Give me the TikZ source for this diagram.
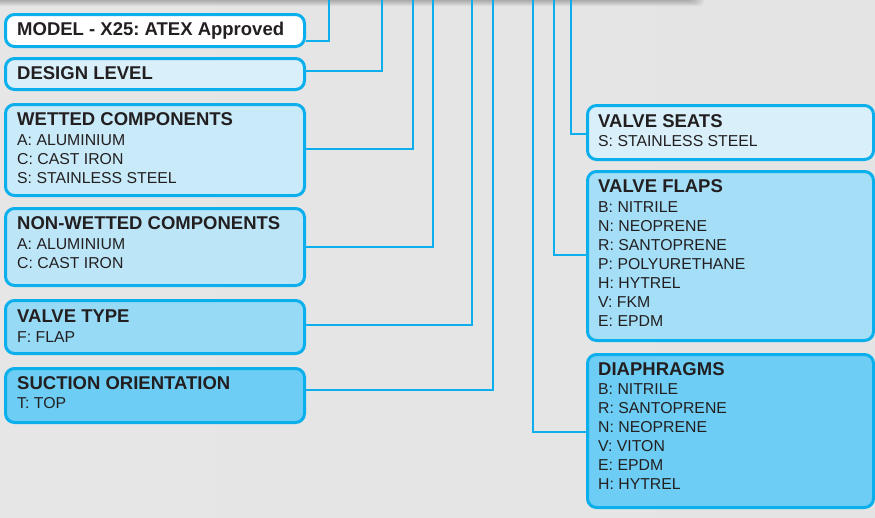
\documentclass[tikz,border=0pt]{standalone}
\usepackage{fontspec}
\setmainfont{Liberation Sans}
\frenchspacing
\definecolor{cyanb}{HTML}{0AAFEC}
\definecolor{ink}{HTML}{231F20}
\definecolor{fA}{HTML}{FFFFFF}
\definecolor{fB}{HTML}{D9F0FB}
\definecolor{fC}{HTML}{C8EAF9}
\definecolor{fD}{HTML}{BCE6F8}
\definecolor{fE}{HTML}{97DAF6}
\definecolor{fF}{HTML}{6DCDF4}
\definecolor{fG}{HTML}{A4DEF7}
\definecolor{bgL}{HTML}{E6E6E6}
\definecolor{bgR}{HTML}{E4E4E4}
\begin{document}
\begin{tikzpicture}[x=1pt,y=-1pt,
  box/.style={draw=cyanb, line width=3pt, rounded corners=9pt, inner sep=0pt, minimum width=299pt},
  rbox/.style={box, minimum width=286pt},
  conn/.style={draw=cyanb, line width=2.3pt},
  head/.style={anchor=base west, inner sep=0pt, text=ink, font=\bfseries\fontsize{18.5}{20}\selectfont},
  body/.style={anchor=base west, inner sep=0pt, text=ink, font=\fontsize{15.8}{19}\selectfont}]
\useasboundingbox (0,0) rectangle (875,517);
\shade[left color=bgL, right color=bgR] (0,0) rectangle (875,517);
% shadow of the code bar above
\foreach \k in {1,...,7}
  \fill[black, opacity=0.045, rounded corners=5pt] (-10,-12) rectangle ({706-2*\k},{7-\k});

% free ends at top
\coordinate (t1) at (329,-2);
\coordinate (t2) at (382,-2);
\coordinate (t3) at (413,-2);
\coordinate (t4) at (433,-2);
\coordinate (t5) at (472,-2);
\coordinate (t6) at (493,-2);
\coordinate (t7) at (533,-2);
\coordinate (t8) at (554,-2);
\coordinate (t9) at (571,-2);

% left boxes
\node[box, fill=fA, minimum height=32pt] (b1) at (155,30.5) {};
\node[box, fill=fB, minimum height=31pt] (b2) at (155,74) {};
\node[box, fill=fC, minimum height=91pt] (b3) at (155,150) {};
\node[box, fill=fD, minimum height=77pt] (b4) at (155,247) {};
\node[box, fill=fE, minimum height=53pt] (b5) at (155,327) {};
\node[box, fill=fF, minimum height=54pt] (b6) at (155,395.5) {};
% right boxes
\node[rbox, fill=fB, minimum height=54pt] (r1) at (730.5,132.5) {};
\node[rbox, fill=fG, minimum height=169pt] (r2) at (730.5,256) {};
\node[rbox, fill=fF, minimum height=153pt] (r3) at (730.5,431) {};

% connectors
\draw[conn] ([yshift=-10.5pt]b1.east) -| (t1);
\draw[conn] ([yshift=3pt]b2.east) -| (t2);
\draw[conn] ([yshift=1pt]b3.east) -| (t3);
\draw[conn] (b4.east) -| (t4);
\draw[conn] ([yshift=2pt]b5.east) -| (t5);
\draw[conn] ([yshift=5.5pt]b6.east) -| (t6);
\draw[conn] ([yshift=-1pt]r3.west) -| (t7);
\draw[conn] ([yshift=1pt]r2.west) -| (t8);
\draw[conn] ([yshift=-1.5pt]r1.west) -| (t9);

% texts, left
\node[head] (h1) at (17,35) {MODEL - X25: ATEX Approved};
\node[head] (h2) at (17,79) {DESIGN LEVEL};
\node[head] (h3) at (17,125) {WETTED COMPONENTS};
\foreach \t [count=\i] in {A: ALUMINIUM, C: CAST IRON, S: STAINLESS STEEL}
  \node[body] (w\i) at (17,{145+19*(\i-1)}) {\t};
\node[head] (h4) at (17,229) {NON-WETTED COMPONENTS};
\foreach \t [count=\i] in {A: ALUMINIUM, C: CAST IRON}
  \node[body] (n\i) at (17,{249+19*(\i-1)}) {\t};
\node[head] (h5) at (17,322) {VALVE TYPE};
\node[body] (v1) at (17,342) {F: FLAP};
\node[head] (h6) at (17,389) {SUCTION ORIENTATION};
\node[body] (s1) at (17,408) {T: TOP};

% texts, right
\node[head] (h7) at (598,127) {VALVE SEATS};
\node[body] (q1) at (598,146) {S: STAINLESS STEEL};
\node[head] (h8) at (598,192) {VALVE FLAPS};
\foreach \t [count=\i] in {B: NITRILE, N: NEOPRENE, R: SANTOPRENE, P: POLYURETHANE, H: HYTREL, V: FKM, E: EPDM}
  \node[body] (f\i) at (598,{212+19*(\i-1)}) {\t};
\node[head] (h9) at (598,375) {DIAPHRAGMS};
\foreach \t [count=\i] in {B: NITRILE, R: SANTOPRENE, N: NEOPRENE, V: VITON, E: EPDM, H: HYTREL}
  \node[body] (d\i) at (598,{394+19*(\i-1)}) {\t};
\end{tikzpicture}
\end{document}
